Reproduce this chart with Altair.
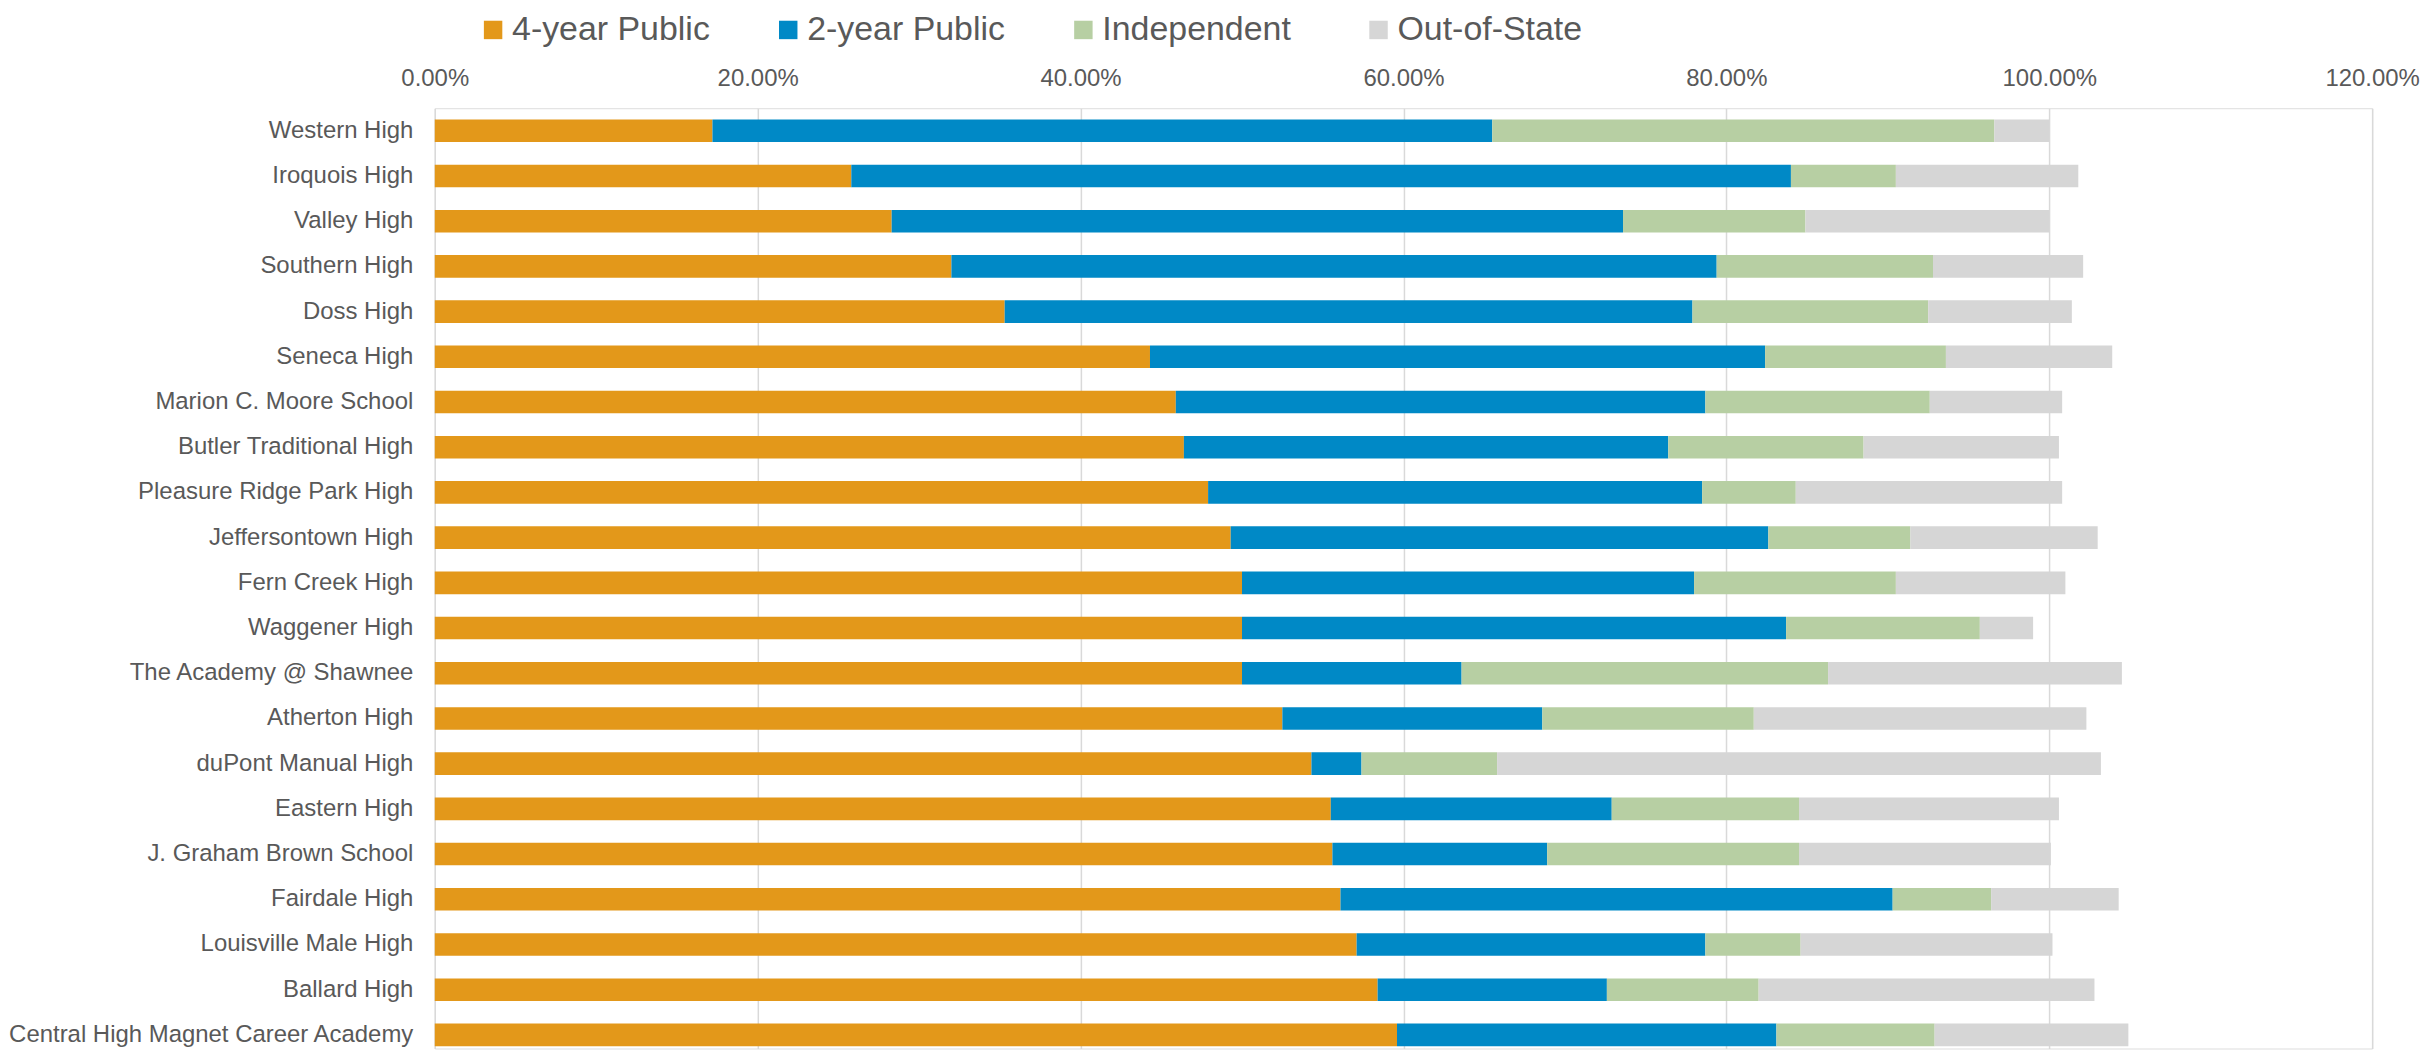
import altair as alt
import pandas as pd

schools = [
    "Western High", "Iroquois High", "Valley High", "Southern High", "Doss High",
    "Seneca High", "Marion C. Moore School", "Butler Traditional High",
    "Pleasure Ridge Park High", "Jeffersontown High", "Fern Creek High",
    "Waggener High", "The Academy @ Shawnee", "Atherton High", "duPont Manual High",
    "Eastern High", "J. Graham Brown School", "Fairdale High", "Louisville Male High",
    "Ballard High", "Central High Magnet Career Academy",
]
series = ["4-year Public", "2-year Public", "Independent", "Out-of-State"]
colors = ["#E3981A", "#0089C6", "#B7CFA3", "#D6D6D6"]

four_year = [17.2, 25.8, 28.3, 32.0, 35.3, 44.3, 45.9, 46.4, 47.9, 49.3, 50.0,
             50.0, 50.0, 52.5, 54.3, 55.5, 55.6, 56.1, 57.1, 58.4, 59.6]
two_year = [48.3, 58.2, 45.3, 47.4, 42.6, 38.1, 32.8, 30.0, 30.6, 33.3, 28.0,
            33.7, 13.6, 16.1, 3.1, 17.4, 13.3, 34.2, 21.6, 14.2, 23.5]
independent = [31.1, 6.5, 11.3, 13.4, 14.6, 11.2, 13.9, 12.1, 5.8, 8.8, 12.5,
               12.0, 22.7, 13.1, 8.4, 11.6, 15.6, 6.1, 5.9, 9.4, 9.8]
out_of_state = [3.4, 11.3, 15.1, 9.3, 8.9, 10.3, 8.2, 12.1, 16.5, 11.6, 10.5,
                3.3, 18.2, 20.6, 37.4, 16.1, 15.6, 7.9, 15.6, 20.8, 12.0]
x_ticks = [0, 0.2, 0.4, 0.6, 0.8, 1.0, 1.2]

rows = []
for k, (name, vals) in enumerate(zip(series, [four_year, two_year, independent, out_of_state])):
    for s, v in zip(schools, vals):
        rows.append({"School": s, "Type": name, "Share": v / 100.0, "ord": k})
df = pd.DataFrame(rows)

FONT = "Liberation Sans"
TXT = "#595959"

chart = alt.Chart(df).mark_bar().encode(
    y=alt.Y("School:N", sort=schools, title=None,
            scale=alt.Scale(paddingInner=0.5, paddingOuter=0.15, align=0.83, round=False),
            axis=alt.Axis(labelFontSize=24, labelFont=FONT, labelColor=TXT,
                          ticks=False, tickSize=0, domain=False, labelPadding=22,
                          labelLimit=600, grid=False)),
    x=alt.X("Share:Q", stack="zero", title=None,
            scale=alt.Scale(domain=[0, 1.2], nice=False),
            axis=alt.Axis(orient="top", values=x_ticks, format=".2%",
                          labelFontSize=24, labelFont=FONT, labelColor=TXT,
                          ticks=False, tickSize=0, domain=False, labelPadding=18,
                          grid=True, gridColor="#D9D9D9", gridWidth=1.5,
                          labelFlush=False)),
    color=alt.Color("Type:N", sort=series,
                    scale=alt.Scale(domain=series, range=colors),
                    legend=alt.Legend(title=None, orient="none", legendX=41.5, legendY=-95.5,
                                      direction="horizontal", columns=4, gridAlign="all",
                                      symbolType="square", symbolSize=342,
                                      symbolStrokeWidth=0, symbolOpacity=1,
                                      labelFontSize=34, labelFont=FONT, labelColor=TXT,
                                      labelOffset=2, columnPadding=61, padding=0,
                                      labelLimit=600)),
    order=alt.Order("ord:Q", sort="ascending"),
).properties(
    width=1943, height=943,
    autosize=alt.AutoSizeParams(type="none"),
    padding={"left": 428, "top": 99, "right": 50, "bottom": 0},
).configure_view(stroke=None).configure(background="white")

chart.save("out.html", embed_options={"renderer": "svg", "actions": False})
